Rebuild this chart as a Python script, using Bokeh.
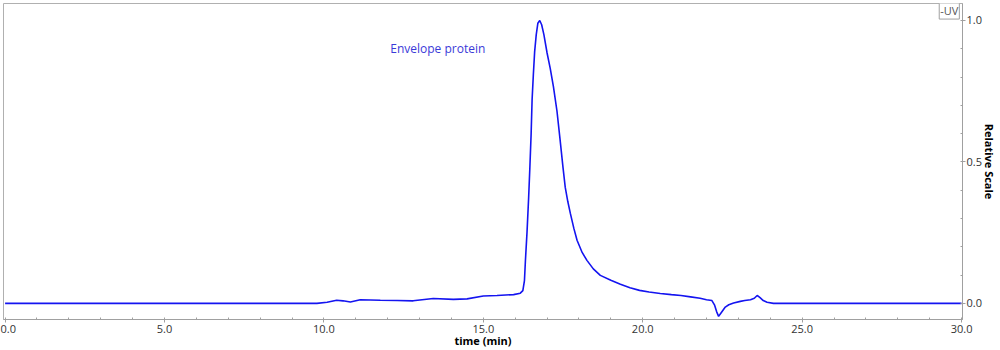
from bokeh.plotting import figure
from bokeh.models import Range1d, Label, FixedTicker
from bokeh.embed import file_html
from bokeh.resources import INLINE

# Chromatogram (UV trace), relative scale
time_min = [0.0, 5.0, 9.0, 9.78, 10.1, 10.4, 10.6, 10.83, 11.14, 11.77, 12.3, 12.8, 13.43,
            14.06, 14.49, 15.0, 15.43, 15.95, 16.16, 16.24, 16.29, 16.32, 16.37, 16.42,
            16.46, 16.5, 16.53, 16.57, 16.61, 16.66, 16.71, 16.77, 16.83, 16.9, 17.0,
            17.1, 17.2, 17.31, 17.41, 17.5, 17.57, 17.65, 17.73, 17.84, 17.94, 18.1,
            18.25, 18.45, 18.67, 19.0, 19.3, 19.6, 19.9, 20.2, 20.55, 20.9, 21.2, 21.5,
            21.8, 22.0, 22.17, 22.25, 22.32, 22.38, 22.45, 22.59, 22.7, 22.85, 23.06,
            23.2, 23.38, 23.5, 23.59, 23.68, 23.78, 23.9, 24.1, 27.0, 30.0]
signal = [0.0, 0.0, 0.0, 0.0, 0.004, 0.011, 0.009, 0.005, 0.013, 0.011, 0.010, 0.009, 0.017,
          0.014, 0.016, 0.026, 0.028, 0.031, 0.036, 0.045, 0.08, 0.15, 0.25, 0.37,
          0.48, 0.60, 0.72, 0.81, 0.89, 0.95, 0.99, 1.0, 0.985, 0.95, 0.885,
          0.83, 0.765, 0.68, 0.576, 0.48, 0.41, 0.36, 0.318, 0.265, 0.223, 0.18,
          0.152, 0.122, 0.099, 0.082, 0.068, 0.055, 0.046, 0.040, 0.035, 0.031, 0.028, 0.023,
          0.018, 0.013, 0.010, -0.005, -0.03, -0.046, -0.035, -0.013, -0.005, 0.001, 0.007,
          0.010, 0.013, 0.018, 0.028, 0.020, 0.010, 0.004, 0.0, 0.0, 0.0]

x_ticks = [0, 5, 10, 15, 20, 25, 30]
y_ticks = [0.0, 0.5, 1.0]
peak_label = "Envelope protein"
legend_text = "-UV"

FONT = "Open Sans"

p = figure(width=1000, height=350, output_backend="svg", toolbar_location=None,
           x_range=Range1d(-0.05, 30.03), y_range=Range1d(-0.057, 1.06),
           y_axis_location="right")
p.min_border_left = 3
p.min_border_right = 38
p.min_border_top = 3
p.min_border_bottom = 31
p.xgrid.visible = False
p.ygrid.visible = False
p.outline_line_color = "#b0b0b0"
p.outline_line_width = 1

p.line(time_min, signal, line_color="#1414f0", line_width=1.6)

xa = p.xaxis[0]
xa.ticker = FixedTicker(ticks=x_ticks, minor_ticks=list(range(0, 31)))
xa.major_label_overrides = {t: f"{t:.1f}" for t in x_ticks}
xa.axis_label = "time (min)"
xa.axis_label_text_font = FONT
xa.axis_label_text_font_style = "bold"
xa.axis_label_text_font_size = "11px"
xa.axis_label_text_color = "black"
xa.axis_label_standoff = -3
xa.major_label_text_font = FONT
xa.major_label_text_font_size = "11px"
xa.major_label_text_color = "#333333"
xa.major_label_standoff = 2
xa.axis_line_color = "#a0a0a0"
xa.major_tick_line_color = "#a0a0a0"
xa.minor_tick_line_color = "#a0a0a0"
xa.major_tick_in = 0
xa.major_tick_out = 3
xa.minor_tick_in = 2
xa.minor_tick_out = 0

ya = p.yaxis[0]
ya.ticker = FixedTicker(ticks=y_ticks, minor_ticks=[round(0.1 * i, 1) for i in range(0, 11)])
ya.major_label_overrides = {0: "0.0", 0.5: "0.5", 1: "1.0"}
ya.axis_label = "Relative Scale"
ya.axis_label_text_font = FONT
ya.axis_label_text_font_style = "bold"
ya.axis_label_text_font_size = "11px"
ya.axis_label_text_color = "black"
ya.axis_label_standoff = -3
ya.major_label_text_font = FONT
ya.major_label_text_font_size = "11px"
ya.major_label_text_color = "#333333"
ya.major_label_standoff = 1
ya.axis_line_color = "#a0a0a0"
ya.major_tick_line_color = "#a0a0a0"
ya.minor_tick_line_color = "#a0a0a0"
ya.major_tick_in = 0
ya.major_tick_out = 3
ya.minor_tick_in = 2
ya.minor_tick_out = 0

p.add_layout(Label(x=12.08, y=0.90, text=peak_label, text_font=FONT,
                   text_font_size="12px", text_color="#3a3ad8",
                   text_align="left", text_baseline="middle"))

p.add_layout(Label(x=29.3, y=1.035, text=legend_text, text_font=FONT,
                   text_font_size="11px", text_color="#555555",
                   text_align="left", text_baseline="middle",
                   border_line_color="#a0a0a0", background_fill_color="white",
                   padding=1))

open("out.html", "w").write(file_html(p, INLINE))
